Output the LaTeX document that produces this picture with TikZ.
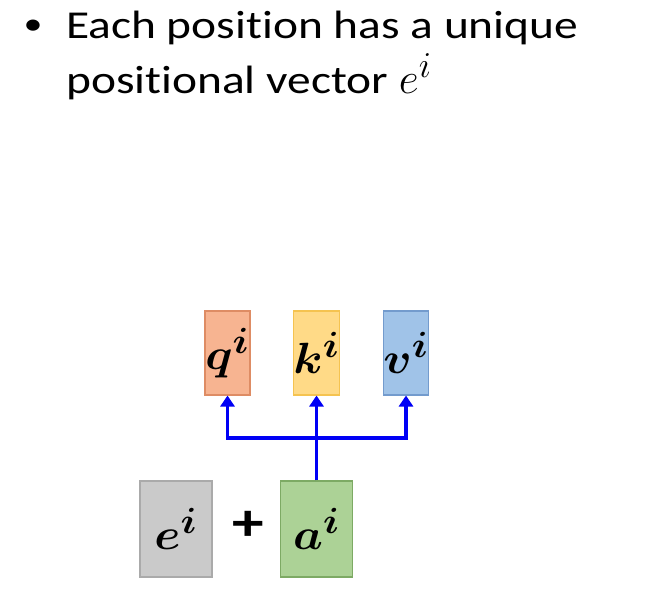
\documentclass[tikz,border=0pt]{standalone}
\usepackage{amsmath,bm}
\usepackage{fontspec}
\setmainfont{Carlito}[FakeStretch=1.2,Ligatures=NoCommon]
\usetikzlibrary{arrows.meta,positioning}

\definecolor{qfill}{RGB}{247,180,145}
\definecolor{qline}{RGB}{222,140,100}
\definecolor{kfill}{RGB}{255,218,135}
\definecolor{kline}{RGB}{245,195,80}
\definecolor{vfill}{RGB}{160,195,232}
\definecolor{vline}{RGB}{115,155,205}
\definecolor{efill}{RGB}{202,202,202}
\definecolor{eline}{RGB}{170,170,170}
\definecolor{afill}{RGB}{172,210,150}
\definecolor{aline}{RGB}{125,170,100}
\definecolor{linkblue}{RGB}{0,0,245}

\newcommand{\boxvec}[1]{\scalebox{1.08}[1]{$\bm{#1}^{\bm{i}}$}}

\begin{document}
\begin{tikzpicture}[x=0.02cm,y=-0.02cm,
    title/.style={anchor=base west,font=\fontsize{22.5}{27}\selectfont},
    vecbox/.style={draw,line width=0.6pt,minimum width=0.9cm,minimum height=1.68cm,inner sep=0pt,
        font=\fontsize{31}{36}\selectfont},
    bigbox/.style={vecbox,minimum width=1.44cm,minimum height=1.92cm},
    link/.style={linkblue,line width=2.2pt},
    linkarrow/.style={link,-{Triangle[length=0.22cm,width=0.28cm]}}]

        \useasboundingbox (0,0) rectangle (645,596);

        % Tiêu đề
        \node[anchor=base,font=\fontsize{18}{18}\selectfont] (bullet) at (33,34) {•};
        \node[title] (line1) at (60,38.5) {Each position has a unique};
        \node[title] (line2) at (60,93) {positional vector {\fontsize{28}{28}\selectfont$e^{i}$}};

        % Các hộp q, k, v
        \node[vecbox,fill=qfill,draw=qline] (q) at (227.5,353) {\boxvec{q}};
        \node[vecbox,fill=kfill,draw=kline] (k) at (316.5,353) {\boxvec{k}};
        \node[vecbox,fill=vfill,draw=vline] (v) at (406,353) {\boxvec{v}};

        % Hộp e và a
        \node[bigbox,fill=efill,draw=eline] (e) at (176,529) {\boxvec{e}};
        \node[bigbox,fill=afill,draw=aline] (a) at (316.5,529) {\boxvec{a}};
        \node[font=\fontsize{30}{36}\selectfont\bfseries] (plus) at (248,526) {+};

        % Mũi tên
        \coordinate (junc) at (a.north |- 0,438);
        \draw[linkarrow] (a.north) -- (k.south);
        \draw[linkarrow] (junc) -| (q.south);
        \draw[linkarrow] (junc) -| (v.south);

\end{tikzpicture}
\end{document}
